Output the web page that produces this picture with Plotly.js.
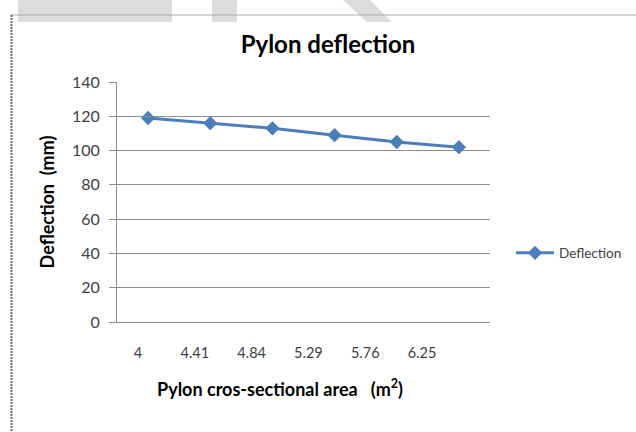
<!DOCTYPE html>
<html>
<head>
<meta charset="utf-8">
<script src="https://cdn.plot.ly/plotly-3.0.1.min.js"></script>
<style>html,body{margin:0;padding:0;background:#fff;}#chart{width:636px;height:432px;}</style>
</head>
<body>
<div id="chart"></div>
<script>
// Data
const categories = ["4", "4.41", "4.84", "5.29", "5.76", "6.25"];
const deflection = [119, 116, 113, 109, 105, 102];
const seriesName = "Deflection";
const yTicks = [0, 20, 40, 60, 80, 100, 120, 140];

// plot-area geometry (pixels)
const W = 636, H = 432;
const L = 117, R = 490, T = 82, B = 322;
const pw = R - L, ph = B - T;
const px = x => (x - L) / pw;
const py = y => (B - y) / ph;

const blue = "#4a7ebb";
const grid = "#8c8c8c";
const font = "Lato, 'Open Sans', sans-serif";

const traces = [
  {
    type: "scatter", mode: "lines+markers", name: seriesName,
    x: categories, y: deflection, xaxis: "x", yaxis: "y",
    line: {color: blue, width: 3},
    marker: {symbol: "diamond", size: 11, color: blue},
    hoverinfo: "x+y"
  },
  {
    type: "scatter", mode: "markers", showlegend: false, hoverinfo: "skip",
    x: categories, y: deflection, xaxis: "x2", yaxis: "y",
    marker: {opacity: 0}
  }
];

const shapes = [
  {type: "rect", xref: "paper", yref: "paper", x0: px(18), x1: px(172), y0: py(0), y1: py(22), fillcolor: "#dcdcdc", line: {width: 0}, layer: "below"},
  {type: "rect", xref: "paper", yref: "paper", x0: px(212), x1: px(237), y0: py(0), y1: py(22), fillcolor: "#dcdcdc", line: {width: 0}, layer: "below"},
  {type: "path", xref: "paper", yref: "paper",
   path: `M ${px(343)} ${py(0)} L ${px(370)} ${py(0)} L ${px(392)} ${py(22)} L ${px(367)} ${py(22)} Z`,
   fillcolor: "#dcdcdc", line: {width: 0}, layer: "below"},
  {type: "line", xref: "paper", yref: "paper", x0: px(11), x1: px(636), y0: py(15), y1: py(15), line: {color: "#ababab", width: 1}},
  {type: "line", xref: "paper", yref: "paper", x0: px(11.5), x1: px(11.5), y0: py(15), y1: py(432), line: {color: "#6a6a6a", width: 2, dash: "2px,1px"}}
];

const layout = {
  width: W, height: H,
  margin: {l: L, r: W - R, t: T, b: H - B, pad: 0, autoexpand: false},
  paper_bgcolor: "#ffffff", plot_bgcolor: "rgba(0,0,0,0)",
  font: {family: font, color: "#404040", size: 14},
  showlegend: true,
  title: {
    text: "<b>Pylon deflection</b>",
    font: {family: font, size: 24, color: "#000"},
    x: 328 / W, xanchor: "center", xref: "container",
    y: 1 - 45 / H, yanchor: "middle", yref: "container"
  },
  xaxis: {
    type: "category", domain: [0, 1], anchor: "y", range: [-0.5, 5.5],
    showticklabels: false, ticks: "", showgrid: false, zeroline: false,
    showline: true, linecolor: grid, linewidth: 1, fixedrange: true
  },
  xaxis2: {
    type: "category", domain: [0, 326 / pw], anchor: "y",
    range: [-0.37, 5.369],
    showgrid: false, zeroline: false, showline: false, ticks: "",
    ticklabelstandoff: 20,
    tickfont: {family: font, size: 14.5, color: "#404040"},
    title: {
      text: "<b>Pylon cros-sectional area   (m<sup>2</sup>)</b>",
      font: {family: font, size: 18, color: "#000"},
      standoff: 23
    },
    fixedrange: true
  },
  yaxis: {
    range: [0, 140], tickvals: yTicks, ticktext: yTicks.map(String),
    showgrid: true, gridcolor: grid, gridwidth: 1,
    zeroline: false, showline: true, linecolor: grid, linewidth: 1,
    ticks: "outside", ticklen: 7, tickcolor: grid, tickwidth: 1,
    ticklabelstandoff: 6,
    tickfont: {family: font, size: 16, color: "#404040"},
    title: {
      text: "<b>Deflection  (mm)</b>",
      font: {family: font, size: 18, color: "#000"},
      standoff: 12
    },
    fixedrange: true
  },
  legend: {
    x: px(511), xanchor: "left", y: py(253), yanchor: "middle",
    font: {family: font, size: 13.5, color: "#404040"},
    bgcolor: "rgba(0,0,0,0)", itemwidth: 38
  },
  shapes: shapes
};

Plotly.newPlot("chart", traces, layout, {displayModeBar: false, staticPlot: true});
</script>
</body>
</html>
